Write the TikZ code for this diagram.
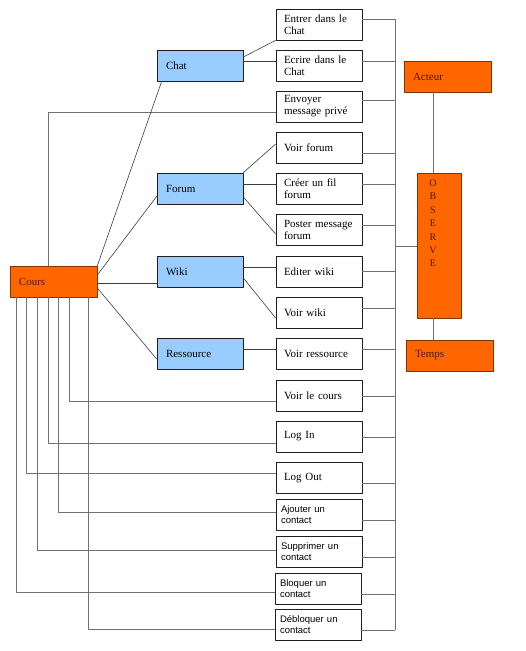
\documentclass[tikz,border=0pt]{standalone}
\usepackage{fontspec}
\setmainfont{Liberation Serif}
\newfontfamily\arialfont{Liberation Sans}
\definecolor{modblue}{HTML}{99CCFF}
\definecolor{hotorange}{HTML}{FF6600}
\definecolor{hotline}{HTML}{803300}
\definecolor{hottext}{HTML}{4A1800}
\definecolor{busgray}{HTML}{707070}
\definecolor{linkgray}{HTML}{3C3C3C}
\definecolor{boxline}{HTML}{1E1E1E}
\tikzset{
  box/.style={draw=boxline,line width=0.7pt,minimum width=86pt,minimum height=31pt,text width=70pt,inner xsep=8pt,inner ysep=2pt,align=left,font=\fontsize{11}{12}\selectfont},
  act/.style={box,fill=white},
  sansact/.style={act,text width=76pt,inner xsep=5pt,font=\arialfont\fontsize{9.5}{11.5}\selectfont},
  module/.style={box,fill=modblue,text width=68pt,inner xsep=9pt},
  hot/.style={box,fill=hotorange,draw=hotline,text=hottext,text width=69pt,inner xsep=9pt},
  bus/.style={draw=busgray,line width=1pt},
  link/.style={draw=linkgray,line width=0.6pt}
}
\begin{document}
\begin{tikzpicture}[x=1pt,y=-1pt,line join=round]
\useasboundingbox (0,0) rectangle (526,651);
% actions
\node[act] (entrer) at (319,24.5) {Entrer dans le\\Chat};
\node[act] (ecrire) at (319,65.5) {Ecrire dans le\\Chat};
\node[act] (envoyer) at (319,106.5) {Envoyer\\message priv\'e};
\node[act] (voirforum) at (319,147.5) {Voir forum};
\node[act] (creer) at (319,188.5) {Cr\'eer un fil\\forum};
\node[act] (poster) at (319,229.5) {Poster message\\forum};
\node[act] (editer) at (319,271.5) {Editer wiki};
\node[act] (voirwiki) at (319,312.5) {Voir wiki};
\node[act] (voirres) at (319,353.5) {Voir ressource};
\node[act] (voircours) at (319,395.5) {Voir le cours};
\node[act] (login) at (319,436.5) {Log In};
\node[act] (logout) at (319,478) {Log Out};
\node[sansact] (ajouter) at (319,514.5) {Ajouter un\\contact};
\node[sansact] (supprimer) at (319,551.5) {Supprimer un\\contact};
\node[sansact] (bloquer) at (318,588.5) {Bloquer un\\contact};
\node[sansact] (debloquer) at (318,624.5) {D\'ebloquer un\\contact};
% modules
\node[module] (chat) at (200,65.5) {Chat};
\node[module] (forum) at (200,188.5) {Forum};
\node[module] (wiki) at (200,271.5) {Wiki};
\node[module] (ressource) at (200,353.5) {Ressource};
\node[hot] (cours) at (53.5,281.5) {Cours};
% observe
\node[hot,minimum width=87pt] (acteur) at (447.5,76.5) {Acteur};
\node[hot,minimum width=87pt] (temps) at (449.5,355.5) {Temps};
\node[hot,text width=26pt,minimum width=44pt,minimum height=145pt,
  label={[text=hottext,align=center,inner sep=0pt,anchor=north,xshift=-6pt,yshift=-7pt,font=\fontsize{10}{13.4}\selectfont]north:{O\\B\\S\\E\\R\\V\\E}}] (observe) at (439,245.5) {};
\coordinate (bustop) at (395,19);
\coordinate (busbot) at (395,630);
\coordinate (busobs) at (395,246);
\draw[bus] (bustop) -- (busbot);
\draw[bus] (busobs) -- (busobs -| observe.west);
\foreach \n/\dy in {entrer/5.5,ecrire/4.5,envoyer/6.5,voirforum/-5.5,creer/4.5,poster/4.5,editer/0.5,voirwiki/4.5,voirres/4.5,voircours/-0.5,login/-0.5,logout/-5,ajouter/-5.5,supprimer/-5.5,bloquer/-5.5,debloquer/-5.5}
  \draw[bus] ([yshift=\dy pt]\n.east) coordinate (p) -- (p -| bustop);
\draw[bus] ([xshift=-6pt]observe.north) coordinate (q) -- (q |- acteur.south);
\draw[bus] ([xshift=-6pt]observe.south) coordinate (r) -- (r |- temps.north);
% cours to actions
\draw[bus] ([yshift=-5.5pt]envoyer.west) -| ([xshift=39pt]cours.north west);
\foreach \n/\dx/\dy in {voircours/60/-5.5,login/39/-6.5,logout/17/5,ajouter/49/2.5,supprimer/28/1.5,bloquer/7/-3.5,debloquer/79/-4.5}
  \draw[bus] ([yshift=\dy pt]\n.west) -| ([xshift=\dx pt]cours.south west);
% cours to modules
\draw[link] (cours.north east) -- ([xshift=5pt]chat.south west);
\draw[link] ([yshift=6.5pt]cours.east) -- ([yshift=8pt]forum.south west);
\draw[link] ([yshift=-1.5pt]cours.east) -- ([yshift=-11.5pt]wiki.west);
\draw[link] ([yshift=-6.5pt]cours.east) -- ([yshift=-5.5pt]ressource.west);
% modules to actions
\draw[link] ([yshift=8.5pt]chat.east) -- (entrer.south west);
\draw[link] ([yshift=4.5pt]chat.east) -- ([yshift=4.5pt]ecrire.west);
\draw[link] (forum.north east) -- ([yshift=3.5pt]voirforum.west);
\draw[link] ([yshift=4.5pt]forum.east) -- ([yshift=4.5pt]creer.west);
\draw[link] ([yshift=-8.5pt]forum.east) -- ([yshift=-4.5pt]poster.west);
\draw[link] ([yshift=4.5pt]wiki.east) -- ([yshift=4.5pt]editer.west);
\draw[link] ([yshift=-6.5pt]wiki.east) -- ([yshift=-5.5pt]voirwiki.west);
\draw[link] ([yshift=4.5pt]ressource.east) -- ([yshift=4.5pt]voirres.west);
\end{tikzpicture}
\end{document}
